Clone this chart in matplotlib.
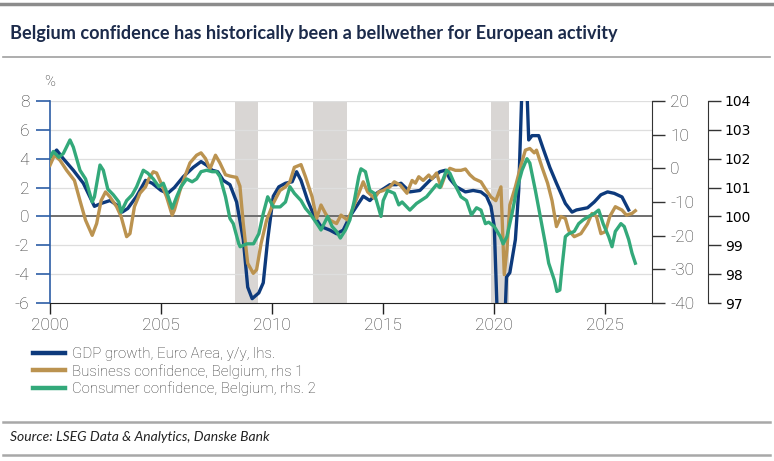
import matplotlib
matplotlib.use("Agg")
import matplotlib.pyplot as plt
from matplotlib.lines import Line2D

# Values (decimal years)
gdp_dates = [2000.0, 2000.3, 2000.6, 2001.05, 2001.5, 2002.0, 2002.3, 2002.7, 2003.0, 2003.25,
             2003.5, 2003.9, 2004.3, 2004.6, 2005.0, 2005.3, 2005.6, 2006.0, 2006.45, 2006.8,
             2007.05, 2007.3, 2007.55, 2007.8, 2008.1, 2008.4, 2008.7, 2008.9, 2009.1, 2009.4,
             2009.6, 2009.8, 2010.05, 2010.3, 2010.6, 2010.9, 2011.1, 2011.3, 2011.6, 2011.9,
             2012.2, 2012.6, 2012.9, 2013.2, 2013.5, 2013.8, 2014.1, 2014.4, 2014.7, 2015.0,
             2015.3, 2015.6, 2015.8, 2016.2, 2016.65, 2017.1, 2017.55, 2017.8, 2018.0, 2018.3,
             2018.7, 2019.05, 2019.4, 2019.65, 2019.85, 2020.0, 2020.3, 2020.55, 2020.7, 2020.95,
             2021.1, 2021.35, 2021.55, 2021.7, 2022.0, 2022.2, 2022.5, 2022.8, 2023.2, 2023.5,
             2023.7, 2024.2, 2024.5, 2024.8, 2025.1, 2025.4, 2025.75, 2025.9, 2026.05]
gdp_values = [4.1, 4.6, 4.0, 3.2, 2.3, 0.7, 0.9, 1.1, 0.8, 0.3,
              0.55, 1.4, 2.5, 2.3, 1.8, 1.6, 2.0, 2.75, 3.4, 3.8,
              3.55, 3.2, 3.1, 2.5, 2.2, 1.0, -1.6, -4.9, -5.7, -5.3,
              -4.6, -1.6, 1.4, 2.05, 2.3, 2.4, 3.1, 2.5, 1.1, 0.0,
              -0.7, -0.95, -1.2, -0.95, 0.0, 0.7, 1.4, 1.1, 1.6, 1.9,
              2.2, 2.2, 2.3, 1.7, 1.8, 2.5, 3.1, 3.2, 2.6, 2.05,
              1.7, 1.8, 1.7, 1.4, 0.7, -0.7, -14.5, -4.2, -3.9, -1.6,
              1.8, 14.0, 5.3, 5.6, 5.6, 4.7, 3.4, 2.3, 0.9, 0.3,
              0.45, 0.6, 1.0, 1.5, 1.7, 1.6, 1.35, 0.9, 0.45]

business_dates = [2000.0, 2000.2, 2000.45, 2000.75, 2001.1, 2001.35, 2001.6, 2001.9, 2002.1, 2002.3,
                  2002.5, 2002.7, 2003.0, 2003.2, 2003.45, 2003.6, 2003.8, 2004.05, 2004.3, 2004.45,
                  2004.65, 2004.8, 2005.0, 2005.25, 2005.5, 2005.6, 2005.85, 2006.1, 2006.3, 2006.6,
                  2006.8, 2007.0, 2007.2, 2007.45, 2007.65, 2007.9, 2008.1, 2008.4, 2008.55, 2008.7,
                  2008.9, 2009.15, 2009.3, 2009.5, 2009.75, 2010.05, 2010.35, 2010.6, 2010.8, 2011.0,
                  2011.3, 2011.5, 2011.8, 2012.0, 2012.2, 2012.4, 2012.6, 2012.9, 2013.1, 2013.4,
                  2013.6, 2013.9, 2014.1, 2014.3, 2014.6, 2014.8, 2015.0, 2015.3, 2015.5, 2015.77,
                  2016.07, 2016.3, 2016.45, 2016.6, 2016.8, 2017.05, 2017.2, 2017.4, 2017.6, 2017.8,
                  2018.0, 2018.25, 2018.5, 2018.7, 2018.9, 2019.1, 2019.4, 2019.6, 2019.85, 2020.07,
                  2020.3, 2020.45, 2020.57, 2020.7, 2020.95, 2021.2, 2021.4, 2021.6, 2021.8, 2021.9,
                  2022.15, 2022.4, 2022.6, 2022.8, 2023.0, 2023.2, 2023.35, 2023.6, 2023.9, 2024.2,
                  2024.4, 2024.6, 2024.8, 2025.0, 2025.2, 2025.45, 2025.75, 2025.95, 2026.2, 2026.35]
business_values = [0.9, 3.9, 2.4, -0.6, -3.6, -9.6, -15.4, -19.9, -16.4, -9.6,
                   -7.0, -8.5, -11.4, -14.3, -20.3, -19.4, -11.4, -7.4, -5.5, -3.1,
                   -1.0, -1.4, -4.4, -8.5, -13.9, -12.4, -6.6, -1.9, 1.6, 3.9,
                   4.6, 2.9, -0.2, 3.9, 1.6, -1.9, -2.3, -2.7, -5.3, -16.4,
                   -28.2, -31.2, -30.1, -22.4, -15.4, -10.4, -6.6, -5.5, -4.0, 0.3,
                   1.1, -2.5, -8.5, -14.9, -10.9, -13.4, -15.4, -16.4, -13.9, -15.4,
                   -12.4, -7.4, -4.0, -7.0, -8.9, -7.0, -6.6, -5.5, -4.0, -5.0,
                   -7.4, -3.6, -4.4, -2.5, -3.6, -2.0, -3.1, -1.4, -5.5, -1.9,
                   0.0, -0.6, -0.6, -0.2, -1.9, -3.1, -4.0, -6.1, -8.5, -9.6,
                   -5.5, -31.6, -24.1, -10.9, -5.5, 0.9, 5.4, 5.9, 4.6, 5.4,
                   0.3, -4.4, -9.6, -17.3, -14.3, -14.9, -18.4, -20.3, -19.4, -16.4,
                   -13.4, -14.3, -19.4, -18.8, -14.3, -11.4, -12.4, -13.9, -13.4, -12.6]

consumer_dates = [2000.0, 2000.15, 2000.4, 2000.6, 2000.9, 2001.05, 2001.35, 2001.6, 2001.9, 2002.0,
                  2002.25, 2002.4, 2002.6, 2002.85, 2003.1, 2003.2, 2003.45, 2003.7, 2003.9, 2004.2,
                  2004.4, 2004.65, 2004.9, 2005.1, 2005.25, 2005.5, 2005.7, 2005.9, 2006.15, 2006.4,
                  2006.6, 2006.8, 2007.05, 2007.3, 2007.5, 2007.65, 2007.9, 2008.1, 2008.25, 2008.5,
                  2008.56, 2008.86, 2009.16, 2009.4, 2009.6, 2009.8, 2010.06, 2010.36, 2010.6, 2010.8,
                  2011.0, 2011.3, 2011.5, 2011.7, 2011.9, 2012.1, 2012.2, 2012.5, 2012.7, 2012.9,
                  2013.07, 2013.3, 2013.5, 2013.7, 2013.9, 2014.0, 2014.2, 2014.4, 2014.6, 2014.9,
                  2015.0, 2015.2, 2015.5, 2015.7, 2015.85, 2016.2, 2016.5, 2016.95, 2017.4, 2017.55,
                  2017.85, 2018.0, 2018.2, 2018.5, 2018.75, 2018.97, 2019.2, 2019.4, 2019.6, 2019.75,
                  2020.0, 2020.27, 2020.4, 2020.57, 2020.8, 2021.0, 2021.25, 2021.47, 2021.6, 2021.85,
                  2022.07, 2022.3, 2022.45, 2022.7, 2022.82, 2022.95, 2023.05, 2023.2, 2023.35, 2023.6,
                  2023.8, 2024.0, 2024.25, 2024.5, 2024.7, 2024.9, 2025.15, 2025.3, 2025.45, 2025.7,
                  2025.85, 2026.05, 2026.2, 2026.35]
consumer_values = [102.05, 102.25, 102.05, 102.18, 102.65, 102.4, 101.6, 101.3, 100.5, 100.68,
                   101.78, 101.6, 100.95, 100.75, 100.5, 100.15, 100.55, 100.75, 101.03, 101.6,
                   101.5, 101.3, 101.03, 101.15, 100.85, 100.28, 100.68, 101.03, 101.3, 101.2,
                   101.3, 101.55, 101.6, 101.55, 101.55, 101.38, 100.68, 99.93, 99.75, 99.05,
                   98.95, 99.05, 99.05, 99.4, 100.1, 100.68, 100.33, 100.33, 100.5, 101.03,
                   100.8, 100.55, 100.28, 100.1, 99.88, 99.65, 99.53, 100.0, 99.65, 99.48,
                   99.25, 99.53, 99.88, 100.55, 101.38, 101.65, 101.55, 100.9, 100.8, 100.0,
                   100.55, 100.9, 100.8, 100.4, 100.5, 100.22, 100.45, 100.68, 101.1, 101.0,
                   101.6, 101.5, 101.15, 100.68, 100.55, 100.05, 100.3, 100.22, 99.75, 99.8,
                   99.65, 99.3, 99.05, 99.3, 100.1, 100.9, 101.6, 102.0, 101.85, 100.9,
                   100.0, 99.05, 98.38, 97.8, 97.4, 97.45, 98.25, 99.3, 99.4, 99.48,
                   99.75, 99.88, 100.0, 100.1, 100.22, 99.75, 99.3, 98.95, 99.48, 99.75,
                   99.65, 99.2, 98.73, 98.38]

recession_starts = [2008.35, 2011.85, 2019.85]
recession_ends = [2009.35, 2013.35, 2020.65]

year_ticks = [2000, 2005, 2010, 2015, 2020, 2025]
left_ticks = [-6, -4, -2, 0, 2, 4, 6, 8]
rhs1_ticks = [-40, -30, -20, -10, 0, 10, 20]
rhs2_ticks = [97, 98, 99, 100, 101, 102, 103, 104]

col_gdp = "#0d3a7c"
col_business = "#bb9350"
col_consumer = "#33a97a"
col_text = "#333333"
tick_font = dict(family=["Roboto", "DejaVu Sans"], size=12.5, weight="light")

W, H = 774, 461
fig = plt.figure(figsize=(W / 100, H / 100), dpi=100)
ax = fig.add_axes([50 / W, 1 - 303 / H, 602 / W, 202 / H])

# Recession shading and grid
for s, e in zip(recession_starts, recession_ends):
    ax.axvspan(s, e, color="#d9d6d4", lw=0, zorder=0)
for t in left_ticks:
    if t == 0:
        ax.axhline(t, color="#6e6e6e", lw=1.4, zorder=1)
    elif t != -6:
        ax.axhline(t, color="#dedede", lw=0.9, zorder=1)

ax.plot(gdp_dates, gdp_values, color=col_gdp, lw=2.4, zorder=3, solid_joinstyle="round")
ax.set_xlim(2000, 2027.1)
ax.set_ylim(-6, 8)
ax.set_yticks(left_ticks)
ax.set_xticks(year_ticks)
ax.set_xticklabels([str(y) for y in year_ticks], **tick_font, color=col_text)
ax.set_yticklabels([str(t) for t in left_ticks], **tick_font, color=col_text)
ax.tick_params(axis="y", direction="out", length=10, width=1.2, color="#2c5ea6", pad=5)
ax.tick_params(axis="x", direction="out", length=8, width=1.0, color="#222222", pad=3)
for side in ["top", "right"]:
    ax.spines[side].set_visible(False)
ax.spines["left"].set_color("#2c5ea6")
ax.spines["left"].set_linewidth(1.2)
ax.spines["bottom"].set_color("#222222")
ax.spines["bottom"].set_zorder(5)

# Right axis 1: business confidence
ax2 = ax.twinx()
ax2.plot(business_dates, business_values, color=col_business, lw=2.4, solid_joinstyle="round")
ax2.set_ylim(-40, 20)
ax2.set_yticks(rhs1_ticks)
ax2.set_yticklabels([str(t) for t in rhs1_ticks], **tick_font, color=col_text)
ax2.tick_params(axis="y", direction="out", length=9, width=1.0, color="#333333", pad=4)
for side in ["top", "left", "bottom"]:
    ax2.spines[side].set_visible(False)
ax2.spines["right"].set_color("#333333")

# Right axis 2: consumer confidence
ax3 = ax.twinx()
ax3.plot(consumer_dates, consumer_values, color=col_consumer, lw=2.4, solid_joinstyle="round")
ax3.set_ylim(97, 104)
ax3.set_yticks(rhs2_ticks)
ax3.set_yticklabels([str(t) for t in rhs2_ticks], **tick_font, color=col_text)
ax3.tick_params(axis="y", direction="out", length=9, width=1.0, color="#333333", pad=3)
ax3.spines["right"].set_position(("outward", 56 * 0.72))
for side in ["top", "left", "bottom"]:
    ax3.spines[side].set_visible(False)
ax3.spines["right"].set_color("#333333")

fig.text(44 / W, 1 - 82 / H, "%", fontsize=10.5, family=["Roboto", "DejaVu Sans"],
         color=col_text, va="center", weight="light")

# Title, source and separator lines
fig.add_artist(Line2D([0, 1], [1 - 4 / H, 1 - 4 / H], color="#8c8c8c", lw=2.5))
fig.add_artist(Line2D([3 / W, 770 / W], [1 - 57 / H, 1 - 57 / H], color="#a0a0a0", lw=1.2))
fig.add_artist(Line2D([3 / W, 770 / W], [1 - 422 / H, 1 - 422 / H], color="#a8a8a8", lw=1.8))
fig.add_artist(Line2D([3 / W, 770 / W], [1 - 455 / H, 1 - 455 / H], color="#a8a8a8", lw=1.8))
fig.text(10 / W, 1 - 33 / H,
         "Belgium confidence has historically been a bellwether for European activity",
         fontsize=13.1, fontweight="bold", family=["Lato", "DejaVu Sans"],
         color="#1c2b4b", va="center")
fig.text(10 / W, 1 - 437 / H, "Source: LSEG Data & Analytics, Danske Bank",
         fontsize=10, fontstyle="italic", family=["Lato", "DejaVu Sans"],
         color="#222222", va="center")

handles = [Line2D([], [], color=col_gdp, lw=3.2),
           Line2D([], [], color=col_business, lw=3.2),
           Line2D([], [], color=col_consumer, lw=3.2)]
labels = ["GDP growth, Euro Area, y/y, lhs.",
          "Business confidence, Belgium, rhs 1",
          "Consumer confidence, Belgium, rhs. 2"]
fig.legend(handles, labels, loc="upper left", bbox_to_anchor=(27 / W, 1 - 341 / H),
           frameon=False, handlelength=2.1, handletextpad=0.5, labelspacing=0.2,
           prop={"family": ["Roboto", "DejaVu Sans"], "size": 10.8, "weight": "light"},
           labelcolor=col_text, borderaxespad=0)

fig.savefig("out.png", dpi=100)
